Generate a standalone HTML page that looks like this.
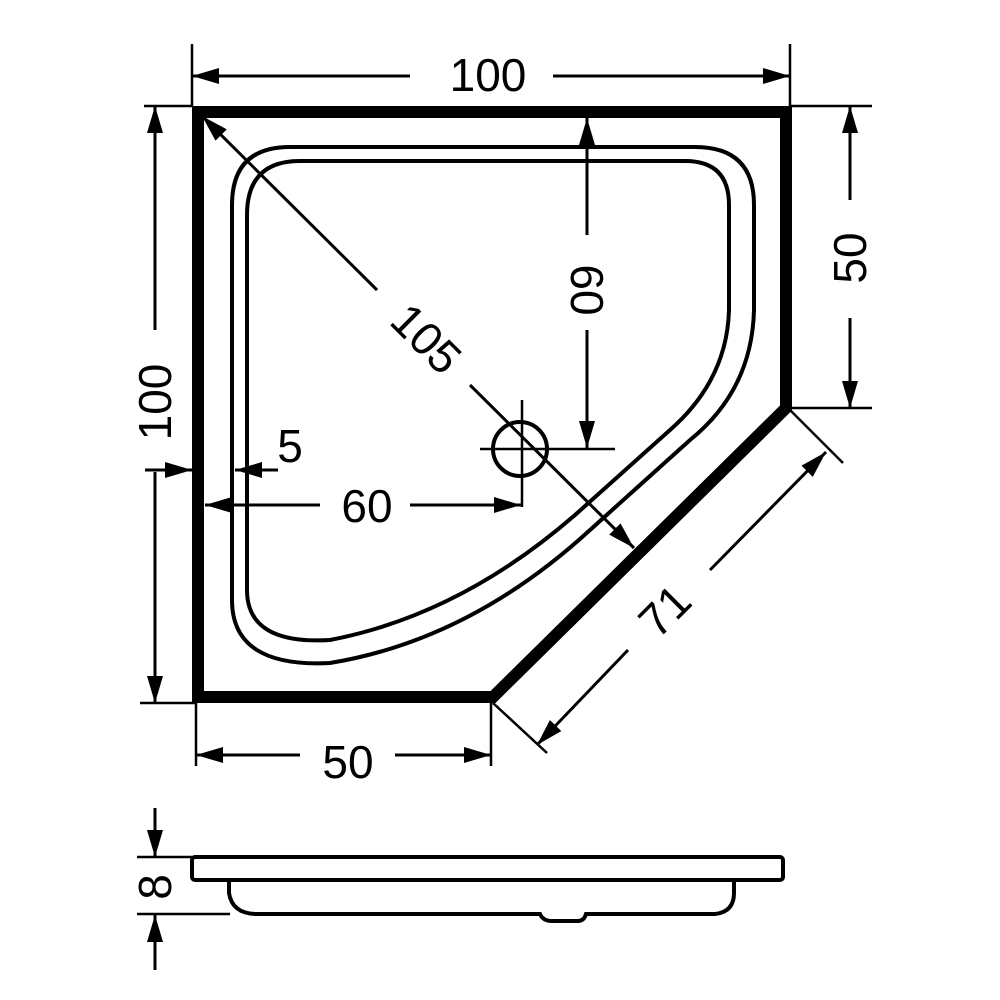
<!DOCTYPE html>
<html><head><meta charset="utf-8"><style>
html,body{margin:0;padding:0;background:#fff;}
svg{display:block;}
text{font-family:"Liberation Sans",sans-serif;font-size:46px;fill:#000;}
</style></head><body>
<svg width="1000" height="1000" viewBox="0 0 1000 1000" xmlns="http://www.w3.org/2000/svg">
<defs>
<marker id="a" markerWidth="28" markerHeight="18" refX="27" refY="8" orient="auto" markerUnits="userSpaceOnUse">
<path d="M0,0 L27,8 L0,16 Z" fill="#000"/>
</marker>
</defs>
<g stroke="#000" fill="none">
<!-- outline -->
<path d="M198 112 L786 112 L786 408 L493 697 L198 697 Z" stroke-width="12" stroke-linejoin="miter"/>
<!-- tray curves -->
<path d="M290 147 L695 147 Q754 147 754 205 L754 310 Q752 390 690 440 L590 530 Q470 640 330 663 Q232 668 232 600 L232 205 Q232 147 290 147 Z" stroke-width="4"/>
<path d="M300 161 L685 161 Q729 161 729 205 L729 310 Q727 380 670 430 L575 515 Q460 615 330 640 Q247 645 247 590 L247 215 Q247 161 300 161 Z" stroke-width="4"/>
<!-- extension lines -->
<g stroke-width="2.5">
<line x1="192" y1="44" x2="192" y2="106"/>
<line x1="790" y1="44" x2="790" y2="106"/>
<line x1="144" y1="106" x2="192" y2="106"/>
<line x1="140" y1="703" x2="196" y2="703"/>
<line x1="790" y1="106" x2="872" y2="106"/>
<line x1="792" y1="408" x2="872" y2="408"/>
<line x1="196" y1="703" x2="196" y2="766"/>
<line x1="491" y1="703" x2="491" y2="766"/>
<line x1="493" y1="703" x2="547" y2="753"/>
<line x1="790" y1="410" x2="843" y2="463"/>
<line x1="480" y1="449" x2="615" y2="449"/>
<line x1="522" y1="400" x2="522" y2="507"/>
</g>
<circle cx="520" cy="449" r="27" stroke-width="4"/>
<!-- dimension lines -->
<g stroke-width="3">
<line x1="410" y1="76" x2="192" y2="76" marker-end="url(#a)"/>
<line x1="553" y1="76" x2="790" y2="76" marker-end="url(#a)"/>
<line x1="155" y1="330" x2="155" y2="106" marker-end="url(#a)"/>
<line x1="155" y1="472" x2="155" y2="703" marker-end="url(#a)"/>
<line x1="850" y1="200" x2="850" y2="106" marker-end="url(#a)"/>
<line x1="850" y1="318" x2="850" y2="408" marker-end="url(#a)"/>
<line x1="300" y1="755" x2="196" y2="755" marker-end="url(#a)"/>
<line x1="395" y1="755" x2="491" y2="755" marker-end="url(#a)"/>
<line x1="628" y1="650" x2="537" y2="745" marker-end="url(#a)"/>
<line x1="710" y1="570" x2="826" y2="452" marker-end="url(#a)"/>
<line x1="377" y1="290" x2="202" y2="116" marker-end="url(#a)"/>
<line x1="470" y1="385" x2="634" y2="548" marker-end="url(#a)"/>
<line x1="587" y1="235" x2="587" y2="118" marker-end="url(#a)"/>
<line x1="587" y1="330" x2="587" y2="448" marker-end="url(#a)"/>
<line x1="320" y1="505" x2="205" y2="505" marker-end="url(#a)"/>
<line x1="410" y1="505" x2="521" y2="505" marker-end="url(#a)"/>
<line x1="278" y1="470" x2="235" y2="470" marker-end="url(#a)"/>
<line x1="145" y1="470" x2="192" y2="470" marker-end="url(#a)"/>
<line x1="155" y1="808" x2="155" y2="857" marker-end="url(#a)"/>
<line x1="155" y1="970" x2="155" y2="915" marker-end="url(#a)"/>
</g>
<!-- side view -->
<rect x="192" y="857" width="591" height="23" rx="3" stroke-width="4"/>
<path d="M229 880 L229 893 Q232 913 255 914 L540 914 Q543 921 552 921 L578 921 Q584 921 586 914 L715 914 Q734 912 734 893 L734 880" stroke-width="4"/>
<g stroke-width="2.5">
<line x1="137" y1="857" x2="192" y2="857"/>
<line x1="137" y1="914" x2="230" y2="914"/>
</g>
</g>
<!-- labels -->
<text x="488" y="91" text-anchor="middle">100</text>
<text transform="translate(171,402) rotate(-90)" text-anchor="middle">100</text>
<text transform="translate(866,258) rotate(-90)" text-anchor="middle">50</text>
<text x="348" y="778" text-anchor="middle">50</text>
<text transform="translate(676,622) rotate(-45)" text-anchor="middle">71</text>
<text transform="translate(415,350) rotate(45)" text-anchor="middle">105</text>
<text transform="translate(571,290) rotate(90)" text-anchor="middle">60</text>
<text x="367" y="522" text-anchor="middle">60</text>
<text x="290" y="462" text-anchor="middle">5</text>
<text transform="translate(171,887) rotate(-90)" text-anchor="middle">8</text>
</svg>
</body></html>
